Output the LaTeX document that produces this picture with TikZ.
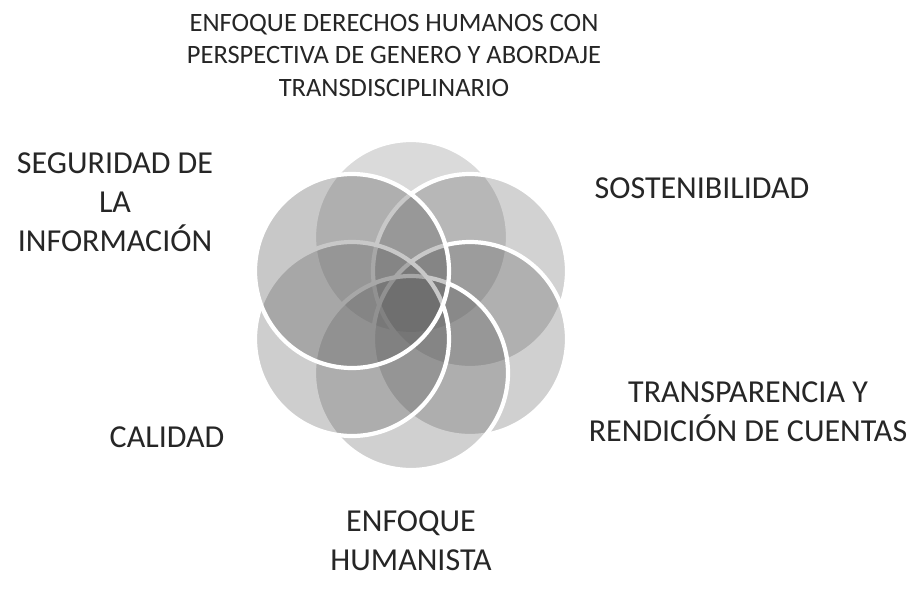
\documentclass[tikz,border=0pt]{standalone}
\usepackage{fontspec}
\setmainfont{Carlito}
\begin{document}
\begin{tikzpicture}[x=1pt,y=-1pt,
  petal/.style={fill=black!65, fill opacity=#1, draw=white, draw opacity=1, line width=4.2pt},
  lab/.style={align=center, font=\fontsize{32}{39}\selectfont, text=black!85, inner sep=0pt},
  ttl/.style={align=center, font=\fontsize{26.5}{32.5}\selectfont, text=black!85, inner sep=0pt}]
\useasboundingbox (0,0) rectangle (915,592);
\fill[white] (0,0) rectangle (915,592);
% petal centres (ring of six around (411,305), offset 68)
\coordinate (cT)  at (411,237);
\coordinate (cUR) at (470,271);
\coordinate (cLR) at (470,339);
\coordinate (cB)  at (411,373);
\coordinate (cLL) at (352,339);
\coordinate (cUL) at (352,271);
% petals, drawn clockwise from the top
\draw[petal=0.22] (cT)  circle[radius=97pt];
\draw[petal=0.27] (cUR) circle[radius=97pt];
\draw[petal=0.28] (cLR) circle[radius=97pt];
\draw[petal=0.28] (cB)  circle[radius=97pt];
\draw[petal=0.29] (cLL) circle[radius=97pt];
\draw[petal=0.33] (cUL) circle[radius=97pt];
% labels
\node[ttl] (title) at (394,55) {ENFOQUE DERECHOS HUMANOS CON\\PERSPECTIVA DE GENERO Y ABORDAJE\\TRANSDISCIPLINARIO};
\node[lab] (seg) at (115,202) {SEGURIDAD DE\\LA\\INFORMACIÓN};
\node[lab] (sos) at (702,188) {SOSTENIBILIDAD};
\node[lab] (tra) at (748,412) {TRANSPARENCIA Y\\RENDICIÓN DE CUENTAS};
\node[lab] (cal) at (167,437) {CALIDAD};
\node[lab] (hum) at (411,541) {ENFOQUE\\HUMANISTA};
\end{tikzpicture}
\end{document}
